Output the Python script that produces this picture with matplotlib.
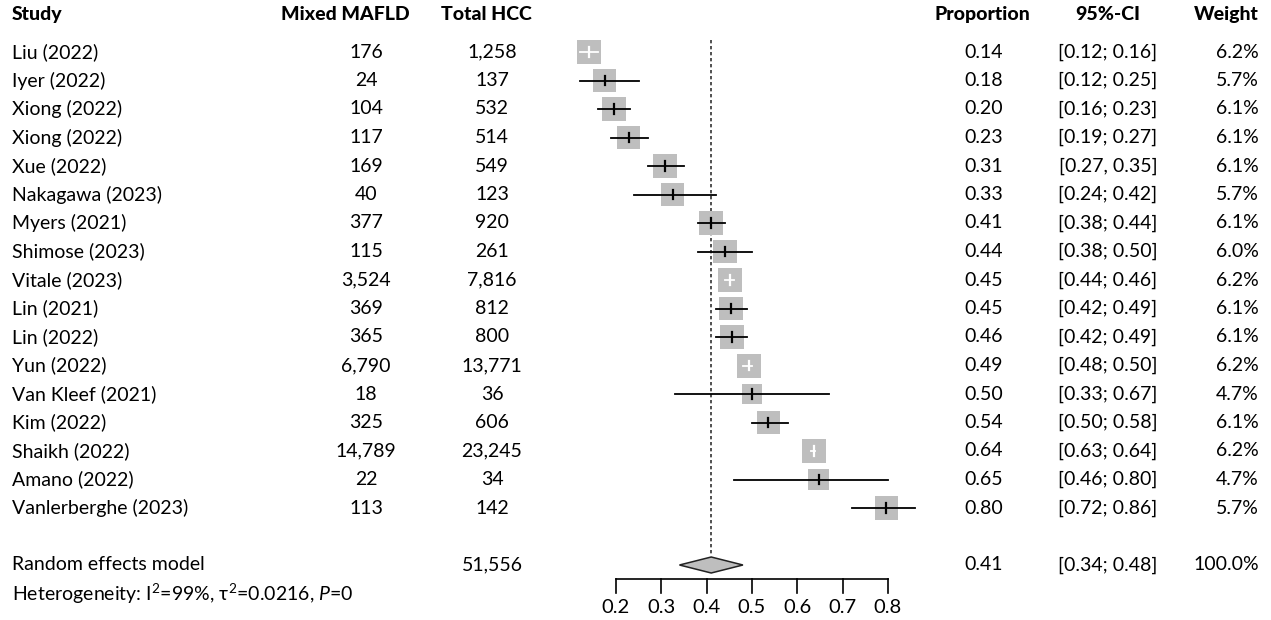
import matplotlib
matplotlib.use("Agg")
import matplotlib.pyplot as plt
from matplotlib.transforms import blended_transform_factory
from matplotlib.patches import Polygon
import numpy as np

# study level data
studies = ["Liu (2022)", "Iyer (2022)", "Xiong (2022)", "Xiong (2022)", "Xue (2022)",
           "Nakagawa (2023)", "Myers (2021)", "Shimose (2023)", "Vitale (2023)",
           "Lin (2021)", "Lin (2022)", "Yun (2022)", "Van Kleef (2021)", "Kim (2022)",
           "Shaikh (2022)", "Amano (2022)", "Vanlerberghe (2023)"]
events = [176, 24, 104, 117, 169, 40, 377, 115, 3524, 369, 365, 6790, 18, 325, 14789, 22, 113]
totals = [1258, 137, 532, 514, 549, 123, 920, 261, 7816, 812, 800, 13771, 36, 606, 23245, 34, 142]
prop = [0.14, 0.18, 0.20, 0.23, 0.31, 0.33, 0.41, 0.44, 0.45, 0.45, 0.46, 0.49, 0.50,
        0.54, 0.64, 0.65, 0.80]
ci_lo = [0.12, 0.12, 0.16, 0.19, 0.27, 0.24, 0.38, 0.38, 0.44, 0.42, 0.42, 0.48, 0.33,
         0.50, 0.63, 0.46, 0.72]
ci_hi = [0.16, 0.25, 0.23, 0.27, 0.35, 0.42, 0.44, 0.50, 0.46, 0.49, 0.49, 0.50, 0.67,
         0.58, 0.64, 0.80, 0.86]
ci_sep = ["; ", "; ", "; ", "; ", ", ", "; ", "; ", "; ", "; ", "; ", "; ", "; ", "; ",
          "; ", "; ", "; ", "; "]
weights = [6.2, 5.7, 6.1, 6.1, 6.1, 5.7, 6.1, 6.0, 6.2, 6.1, 6.1, 6.2, 4.7, 6.1, 6.2, 4.7, 5.7]

# random effects summary
pooled = 0.41
pooled_lo = 0.34
pooled_hi = 0.48
pooled_total = 51556
pooled_weight = 100.0
ticks = [0.2, 0.3, 0.4, 0.5, 0.6, 0.7, 0.8]

W, H = 1271, 620
FONT = "Lato"
FS = 14

plt.rcParams["font.family"] = [FONT, "DejaVu Sans"]
plt.rcParams["mathtext.fontset"] = "custom"
plt.rcParams["mathtext.rm"] = FONT
plt.rcParams["mathtext.it"] = FONT + ":italic"

fig = plt.figure(figsize=(W / 100, H / 100), dpi=100)
ax = fig.add_axes([0, 0, 1, 1])
ax.axis("off")

# x scale: 0.2 -> 616 px, 0.8 -> 888 px
ppu = (888 - 616) / 0.6
ax.set_xlim(0.2 - 616 / ppu, 0.8 + (W - 888) / ppu)
# rows: row 0 at 52 px, 28.5 px apart
row_px = 28.5
ax.set_ylim((H - 52) / row_px, -52 / row_px)

tr = blended_transform_factory(fig.transFigure, ax.transData)


def fx(px):
    return px / W


LEFT = 12

# header
hy = -1.33
hdr = dict(transform=tr, va="center", fontsize=FS, fontweight="black")
ax.text(fx(LEFT), hy, "Study", ha="left", **hdr)
ax.text(fx(345), hy, "Mixed MAFLD", ha="center", **hdr)
ax.text(fx(486), hy, "Total HCC", ha="center", **hdr)
ax.text(fx(982), hy, "Proportion", ha="center", **hdr)
ax.text(fx(1108), hy, "95%-CI", ha="center", **hdr)
ax.text(fx(1259), hy, "Weight", ha="right", **hdr)

# reference line at pooled estimate
ax.plot([pooled, pooled], [-0.42, 17.7], color="#333333", lw=1.2, ls=(0, (2, 1.6)), zorder=1)

max_side = 24
for i, name in enumerate(studies):
    est = events[i] / totals[i]
    side = max_side * np.sqrt(weights[i] / max(weights))
    hw = side / 2 / ppu
    inside = ci_lo[i] >= est - hw and ci_hi[i] <= est + hw
    lc = "white" if inside else "black"
    ax.scatter([est], [i], marker="s", s=(side * 0.72) ** 2, color="#bebebe",
               edgecolors="none", zorder=2)
    ax.plot([ci_lo[i], ci_hi[i]], [i, i], color=lc, lw=1.3, zorder=3)
    ax.plot([est, est], [i - 0.16, i + 0.16], color=lc, lw=1.6, zorder=3)

    ax.text(fx(LEFT), i, name, transform=tr, ha="left", va="center", fontsize=FS)
    ax.text(fx(366), i, f"{events[i]:,}", transform=tr, ha="center", va="center", fontsize=FS)
    ax.text(fx(492), i, f"{totals[i]:,}", transform=tr, ha="center", va="center", fontsize=FS)
    ax.text(fx(984), i, f"{prop[i]:.2f}", transform=tr, ha="center", va="center", fontsize=FS)
    ax.text(fx(1108), i, f"[{ci_lo[i]:.2f}{ci_sep[i]}{ci_hi[i]:.2f}]", transform=tr,
            ha="center", va="center", fontsize=FS)
    ax.text(fx(1259), i, f"{weights[i]:.1f}%", transform=tr, ha="right", va="center", fontsize=FS)

# random effects row
ry = len(studies) + 1
dh = 8 / row_px
diamond = Polygon([[pooled_lo, ry], [pooled, ry - dh], [pooled_hi, ry], [pooled, ry + dh]],
                  closed=True, facecolor="#bebebe", edgecolor="#222222", lw=1.1, zorder=3)
ax.add_patch(diamond)
ax.text(fx(LEFT), ry, "Random effects model", transform=tr, ha="left", va="center", fontsize=FS)
ax.text(fx(492), ry, f"{pooled_total:,}", transform=tr, ha="center", va="center", fontsize=FS)
ax.text(fx(984), ry, f"{pooled:.2f}", transform=tr, ha="center", va="center", fontsize=FS)
ax.text(fx(1108), ry, f"[{pooled_lo:.2f}; {pooled_hi:.2f}]", transform=tr, ha="center",
        va="center", fontsize=FS)
ax.text(fx(1259), ry, f"{pooled_weight:.1f}%", transform=tr, ha="right",
        va="center", fontsize=FS)
ax.text(fx(LEFT), ry + 1, r"Heterogeneity: I$^2$=99%, τ$^2$=0.0216, $P$=0", transform=tr,
        ha="left", va="center", fontsize=FS)

# x axis drawn by hand below the summary
ay = ry + 0.5
ax.plot([ticks[0], ticks[-1]], [ay, ay], color="black", lw=1.2)
for t in ticks:
    ax.plot([t, t], [ay, ay + 0.48], color="black", lw=1.2)
    ax.text(t, ay + 1.0, f"{t:.1f}", ha="center", va="center", fontsize=FS + 0.5)

fig.savefig("out.png", dpi=100)
